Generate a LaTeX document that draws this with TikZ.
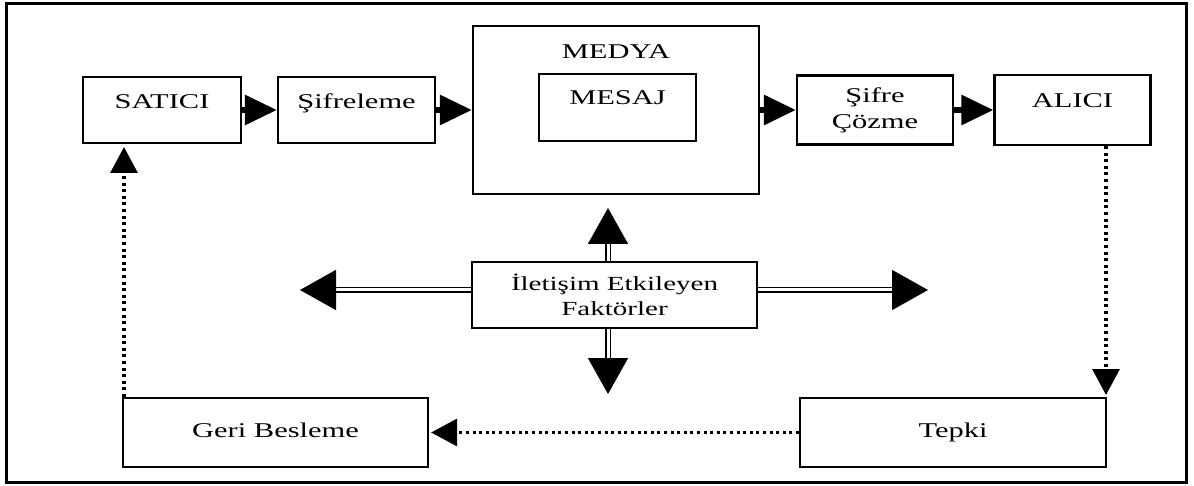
\documentclass[tikz,border=0pt]{standalone}
\usepackage{fontspec}
\setmainfont{Liberation Serif}[FakeStretch=1.45]
\usetikzlibrary{arrows.meta}
\begin{document}
\begin{tikzpicture}[x=1pt,y=-1pt,
  font=\fontsize{21}{26}\selectfont,
  box/.style={draw, line width=2.2pt, inner sep=0pt},
  one/.style={text height=14.5pt},
  flow/.style={line width=6pt, -{Triangle[length=32pt,width=29pt]}},
  dotline/.style={line width=3.2pt, dash pattern=on 3pt off 3.6pt, -{Triangle[length=26pt,width=27pt]}},
  dbl/.style={double, line width=1.6pt, double distance=3pt, -{Triangle[length=36pt,width=40pt]}}]
\useasboundingbox (0,0) rectangle (1194,486);
\draw[line width=3pt] (6,4) rectangle (1186,482);
% top row
\node[box, one, minimum width=158pt, minimum height=66pt, text depth=18pt] (satici) at (162,110) {SATICI};
\node[box, one, minimum width=157pt, minimum height=66pt, text depth=18pt] (sifreleme) at (356.5,110) {Şifreleme};
\node[box, one, minimum width=286pt, minimum height=168pt, text depth=118pt] (medya) at (616,110) {MEDYA};
\node[box, one, minimum width=157pt, minimum height=67pt, text depth=21pt] (mesaj) at (617.5,107.5) {MESAJ};
\node[box, align=center, minimum width=156pt, minimum height=69pt] (sifre) at (875,110) {Şifre\\Çözme};
\node[box, one, minimum width=156pt, minimum height=70pt, text depth=20pt] (alici) at (1072.5,110) {ALICI};
% factors
\node[box, align=center, minimum width=285pt, minimum height=66pt, font=\fontsize{20}{25}\selectfont] (factors) at (614.5,295) {İletişim Etkileyen\\Faktörler};
% bottom row
\node[box, one, minimum width=305pt, minimum height=69pt, text depth=5pt] (geri) at (275.5,432.5) {Geri Besleme};
\node[box, one, minimum width=306pt, minimum height=69pt, text depth=5pt] (tepki) at (953,432.5) {Tepki};
% flow arrows
\draw[flow] (satici.east) -- (sifreleme.west);
\draw[flow] (sifreleme.east) -- (medya.west);
\draw[flow] (medya.east) -- (sifre.west);
\draw[flow] (sifre.east) -- (alici.west);
% factor arrows
\coordinate (up) at (608,208);
\coordinate (dn) at (608,394);
\coordinate (lf) at (300,290);
\coordinate (rt) at (928,290);
\draw[dbl] (factors.north -| up) -- (up);
\draw[dbl] (factors.south -| dn) -- (dn);
\draw[dbl] (factors.west |- lf) -- (lf);
\draw[dbl] (factors.east |- rt) -- (rt);
% feedback loop
\coordinate (a1) at (1106,395);
\coordinate (g1) at (124,147);
\draw[dotline] (alici.south -| a1) -- (a1);
\draw[dotline] (tepki.west) -- ([xshift=2pt]geri.east);
\draw[dotline] (geri.north -| g1) -- (g1);
\end{tikzpicture}
\end{document}
